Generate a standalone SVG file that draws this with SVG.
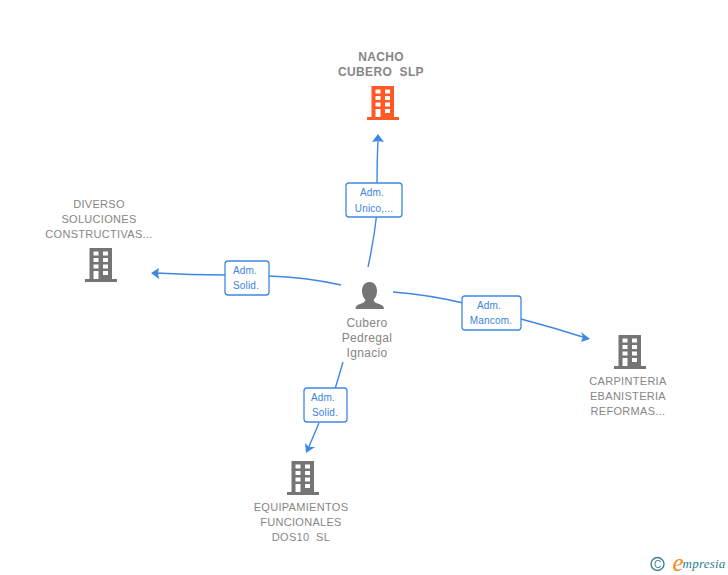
<svg xmlns="http://www.w3.org/2000/svg" width="728" height="575" viewBox="0 0 728 575">
<style>
text{font-family:"Liberation Sans",Arial,sans-serif;text-anchor:middle}
.n{font-size:11px;fill:#868686;letter-spacing:.3px}
.t{font-size:12px;fill:#868686;font-weight:bold;letter-spacing:.35px}
.p{font-size:12px;fill:#868686;letter-spacing:.3px}
.l{font-size:10px;fill:#3b82e0;letter-spacing:.2px}
.c{fill:none;stroke:#3f87e5;stroke-width:1.4}
.b{fill:#fff;stroke:#3f87e5;stroke-width:1.3}
.g{fill:#757575}
</style>
<defs>
<path id="bld" fill-rule="evenodd" d="M4.500 0H27V31H32V34H0V31H4.500ZM8.500 3.500V7.500H13.500V3.500ZM18 3.500V7.500H23V3.500ZM8.500 10V14H13.500V10ZM18 10V14H23V10ZM8.500 16.500V20.500H13.500V16.500ZM18 16.500V20.500H23V16.500ZM8.500 23V31H13.500V23ZM18 23V27H23V23Z"/>
</defs>
<g id="connectors">
<path class="c" d="M368 267Q374 240 377 212"/>
<path class="c" d="M377 184Q377 160 378 139"/>
<path class="c" d="M341 285Q305 277 269 276"/>
<path class="c" d="M226 275Q190 275 156 273"/>
<path class="c" d="M393 292Q430 295 463 303"/>
<path class="c" d="M521 319Q555 328 586 338"/>
<path class="c" d="M343 362Q339 376 335 389"/>
<path class="c" d="M319 423Q313 437 308 449"/>
<path fill="#3f87e5" d="M378 134L384 142L378 141L372 142Z"/>
<path fill="#3f87e5" d="M151 273L159 268L158 273L159 279Z"/>
<path fill="#3f87e5" d="M590 339L581 342L583 337L581 332Z"/>
<path fill="#3f87e5" d="M306 453L305 443L309 447L315 447Z"/>
</g>
<g id="edge-label-1"><rect class="b" x="346" y="183" width="56" height="34" rx="3"/><text class="l" x="372" y="196">Adm.</text><text class="l" x="374" y="212">Unico,...</text></g>
<g id="edge-label-2"><rect class="b" x="225" y="261" width="44" height="34" rx="3"/><text class="l" x="245" y="274">Adm.</text><text class="l" x="246" y="289">Solid.</text></g>
<g id="edge-label-3"><rect class="b" x="462" y="296" width="59" height="34" rx="3"/><text class="l" x="489" y="309">Adm.</text><text class="l" x="491" y="324">Mancom.</text></g>
<g id="edge-label-4"><rect class="b" x="304" y="388" width="43" height="34" rx="3"/><text class="l" x="323" y="401">Adm.</text><text class="l" x="325" y="416">Solid.</text></g>
<g id="node-nacho"><text class="t" x="381" y="61">NACHO</text><text class="t" x="381" y="76" xml:space="preserve">CUBERO  SLP</text><use href="#bld" x="367" y="86" fill="#ff5a26"/></g>
<g id="node-diverso"><text class="n" x="99" y="208">DIVERSO</text><text class="n" x="99" y="223">SOLUCIONES</text><text class="n" x="99" y="238">CONSTRUCTIVAS...</text><use href="#bld" x="85" y="248" fill="#757575"/></g>
<g id="node-carpinteria"><use href="#bld" x="614" y="335" fill="#757575"/><text class="n" x="628" y="385">CARPINTERIA</text><text class="n" x="628" y="400">EBANISTERIA</text><text class="n" x="628" y="415">REFORMAS...</text></g>
<g id="node-equipamientos"><use href="#bld" x="287" y="461" fill="#757575"/><text class="n" x="301" y="511">EQUIPAMIENTOS</text><text class="n" x="301" y="526">FUNCIONALES</text><text class="n" x="301" y="541" xml:space="preserve">DOS10  SL</text></g>
<g id="node-cubero"><path class="g" d="M369.500 282C374.500 282 377 286 377 291C377 295 375.500 298 373.500 300C374 302 376 303 379 304C382 305 384 306 384 309H355.500C355.500 306 357 305 360 304C363 303 365 302 365.500 300C363.500 298 362 295 362 291C362 286 364.500 282 369.500 282Z"/><text class="p" x="367" y="327">Cubero</text><text class="p" x="367" y="342">Pedregal</text><text class="p" x="367" y="357">Ignacio</text></g>
<g id="brand"><circle cx="657.500" cy="564" r="6.500" fill="none" stroke="#3f7f8f" stroke-width="1.4"/><text x="657.500" y="567.500" style="font-size:10px;fill:#3f7f8f">C</text><text x="678" y="571" style="font-family:'Liberation Serif',serif;font-style:italic;font-size:25px;fill:#f08a1d">e</text><text x="704" y="568" style="font-family:'Liberation Serif',serif;font-style:italic;font-size:13px;fill:#2f7f8f;letter-spacing:.2px">mpresia</text></g>
</svg>
